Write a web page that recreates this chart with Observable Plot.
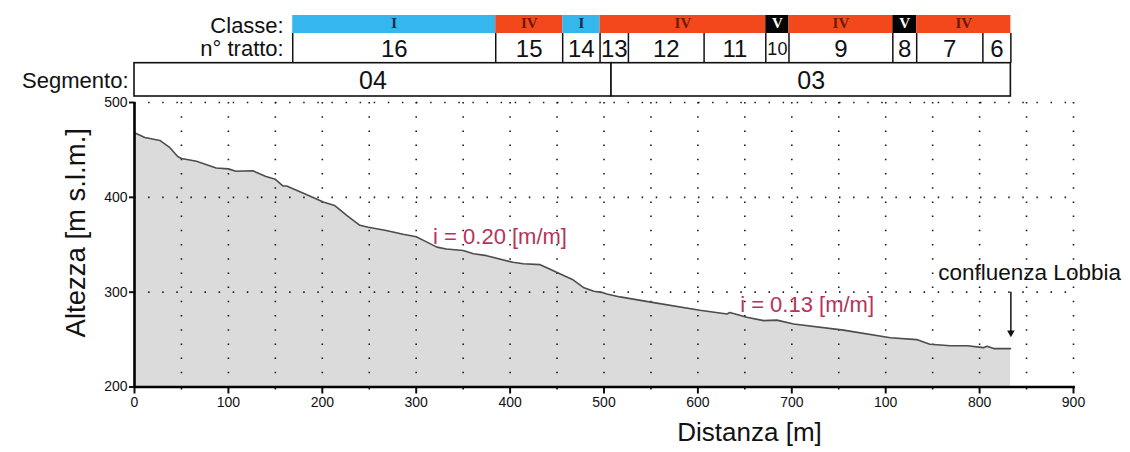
<!DOCTYPE html>
<html><head><meta charset="utf-8">
<script src="https://cdn.jsdelivr.net/npm/d3@7"></script>
<script src="https://cdn.jsdelivr.net/npm/@observablehq/plot@0.6"></script>
<style>
html,body{margin:0;padding:0;background:#fff;}
#chart svg{display:block;}
</style></head><body><div id="chart"></div>
<script>
// ---- profilo longitudinale (distanza in unità dell'asse, quota m s.l.m.)
const distanza = [0, 11, 27, 37, 46, 50, 66, 87, 100, 108, 126, 140, 150, 158, 162, 183, 201, 213, 226, 240, 249, 268, 286, 300, 311, 322, 332, 350, 361, 375, 403, 414, 432, 442, 457, 467, 478, 489, 499, 503, 517, 553, 602, 631, 634, 652, 670, 684, 702, 755, 805, 833, 847, 869, 887, 904, 908, 915, 933];
const altezza = [468, 463, 460, 453, 443, 441, 438, 431, 430, 427.5, 428, 422, 419, 412, 412, 403, 395, 391.5, 381, 370.5, 368.5, 365, 361, 358.5, 353, 347.5, 345.5, 344, 340.5, 338.5, 331.5, 330, 329, 324.5, 317.5, 313, 305, 301, 299.5, 298, 295, 289, 281, 277, 278.5, 273.5, 270, 270.5, 266.5, 260, 252, 250, 245, 243.5, 243.5, 241.5, 243, 240.5, 240.5];

// ---- tabella di intestazione
const classe = ["I", "IV", "I", "IV", "V", "IV", "V", "IV"];
const classeDa = [168.5, 384.7, 456, 495.8, 672.3, 697, 807.6, 833];
const classeA = [384.7, 456, 495.8, 672.3, 697, 807.6, 833, 933.3];
const tratto = ["16", "15", "14", "13", "12", "11", "10", "9", "8", "7", "6"];
const trattoDa = [168.5, 384.7, 456, 495.8, 526, 606.6, 672.3, 697, 807.6, 833, 903.5];
const trattoA = [384.7, 456, 495.8, 526, 606.6, 672.3, 697, 807.6, 833, 903.5, 933.3];
const segmento = ["04", "03"];
const segmentoDa = [0, 508];
const segmentoA = [508, 933.3];

// ---- assi
const xTicks = [0, 100, 200, 300, 400, 500, 600, 700, 800, 900, 1000];
const xTickLabels = ["0", "100", "200", "300", "400", "500", "600", "700", "100", "800", "900"];
const yTicks = [200, 300, 400, 500];

// ---- annotazioni
const pendenze = ["i = 0.20 [m/m]", "i = 0.13 [m/m]"];
const pendenzeX = [318, 645];
const pendenzeY = [358, 286];
const confluenzaTesto = "confluenza Lobbia";
const confluenzaX = 856;
const confluenzaY = 320;
const frecciaX = 933.3;
const frecciaDa = 300;
const frecciaA = 254;

// ---- build tables
const profilo = distanza.map((d, i) => ({d, h: altezza[i]}));
const classi = classe.map((c, i) => ({c, da: classeDa[i], a: classeA[i]}));
const tratti = tratto.map((t, i) => ({t, da: trattoDa[i], a: trattoA[i]}));
const segmenti = segmento.map((s, i) => ({s, da: segmentoDa[i], a: segmentoA[i]}));
const pend = pendenze.map((t, i) => ({t, x: pendenzeX[i], y: pendenzeY[i]}));

const W = 1130, ML = 134, MR = 57;
const pxPerUnit = (W - ML - MR) / 1000;
const CAD = "Liberation Sans, Arial, sans-serif";
const classeFill = {I: "#35b6ec", IV: "#f2481c", V: "#050505"};
const classeInk = {I: "#1c2a44", IV: "#6a1a08", V: "#ffffff"};
const rows = {classe: [0, 18], tratto: [18, 47.7], segmento: [47.7, 81]};
const mid = r => (r[0] + r[1]) / 2;

const header = Plot.plot({
  width: W, height: 98, marginLeft: ML, marginRight: MR, marginTop: 15, marginBottom: 2,
  x: {domain: [0, 1000], axis: null},
  y: {domain: [81, 0], axis: null},
  color: {type: "identity"},
  style: {fontFamily: CAD, background: "transparent", overflow: "visible"},
  marks: [
    Plot.rect(classi, {x1: "da", x2: "a", y1: rows.classe[0], y2: rows.classe[1], fill: d => classeFill[d.c]}),
    Plot.text(classi, {x: d => (d.da + d.a) / 2, y: mid(rows.classe), text: "c", fill: d => classeInk[d.c],
      fontFamily: "Liberation Serif, Times New Roman, serif", fontWeight: "bold", fontSize: 15, dy: -1}),
    Plot.ruleX([...trattoDa, trattoA[trattoA.length - 1]], {y1: rows.tratto[0], y2: rows.tratto[1], stroke: "#111", strokeWidth: 1.5}),
    Plot.text(tratti, {x: d => (d.da + d.a) / 2, y: mid(rows.tratto), text: "t", fill: "#111",
      fontSize: d => ((d.a - d.da) * pxPerUnit < 26 && d.t.length > 1) ? 18 : 24, dy: 1}),
    Plot.rect(segmenti, {x1: "da", x2: "a", y1: rows.segmento[0], y2: rows.segmento[1], fill: "white", stroke: "#111", strokeWidth: 1.6}),
    Plot.text(segmenti, {x: d => (d.da + d.a) / 2, y: mid(rows.segmento), text: "s", fill: "#111", fontSize: 25, dy: 1}),
    Plot.text(["Classe:"], {x: classeDa[0], y: mid(rows.classe), text: d => d, textAnchor: "end", dx: -9, fontSize: 22, fill: "#111", dy: 1}),
    Plot.text(["n° tratto:"], {x: trattoDa[0], y: mid(rows.tratto), text: d => d, textAnchor: "end", dx: -9, fontSize: 22, fill: "#111", dy: 1}),
    Plot.text(["Segmento:"], {x: segmentoDa[0], y: mid(rows.segmento), text: d => d, textAnchor: "end", dx: -6, fontSize: 22, fill: "#111", dy: 1})
  ]
});

const main = Plot.plot({
  width: W, height: 354, marginLeft: ML, marginRight: MR, marginTop: 4, marginBottom: 65.5,
  x: {domain: [0, 1000], label: null},
  y: {domain: [200, 500], label: null},
  style: {fontFamily: "Liberation Sans, Arial, sans-serif", fontSize: "13px", background: "transparent", overflow: "visible", color: "#111"},
  marks: [
    Plot.areaY(profilo, {x: "d", y1: 200, y2: "h", fill: "#dbdbdb"}),
    Plot.ruleX(d3.range(50, 1001, 50), {y1: 500, y2: 200, stroke: "#1a1a1a", strokeWidth: 1.6, strokeDasharray: "1.5 12.7"}),
    Plot.ruleY([300, 400, 500], {x1: 0, x2: 1006, stroke: "#1a1a1a", strokeWidth: 1.6, strokeDasharray: "1.5 12.6"}),
    Plot.line(profilo, {x: "d", y: "h", stroke: "#4d4d4d", strokeWidth: 1.6}),
    Plot.text(pend, {x: "x", y: "y", text: "t", textAnchor: "start", fontSize: 22, fill: "#b5345c", fontFamily: "Liberation Sans, Arial, sans-serif"}),
    Plot.text([confluenzaTesto], {x: confluenzaX, y: confluenzaY, text: d => d, textAnchor: "start", fontSize: 22.5, fill: "#111", fontFamily: CAD}),
    Plot.ruleX([frecciaX], {y1: frecciaDa, y2: frecciaA + 3, stroke: "#111", strokeWidth: 1.5}),
    Plot.dot([frecciaX], {x: d => d, y: frecciaA, symbol: "triangle2", rotate: 180, r: 3.6, fill: "#111", dy: -3}),
    Plot.axisX({ticks: xTicks, tickFormat: d => xTickLabels[xTicks.indexOf(d)], tickSize: 7, tickPadding: 3, fontSize: 14, strokeWidth: 2, label: null}),
    Plot.axisX({ticks: d3.range(50, 1000, 100), tickFormat: () => "", tickSize: 3, strokeWidth: 1.6, label: null}),
    Plot.axisY({ticks: yTicks, tickSize: 5, tickPadding: 2, fontSize: 14, strokeWidth: 2, label: null}),
    Plot.ruleY([200], {x1: 0, x2: 1002, stroke: "#000", strokeWidth: 2.6}),
    Plot.ruleX([0], {y1: 200, y2: 500, stroke: "#000", strokeWidth: 2.6}),
    Plot.text(["Altezza [m s.l.m.]"], {frameAnchor: "left", textAnchor: "middle", text: d => d, rotate: -90, dx: -58, dy: -12, fontSize: 27.5, fill: "#111", fontFamily: CAD}),
    Plot.text(["Distanza [m]"], {x: 655, frameAnchor: "bottom", textAnchor: "middle", text: d => d, dy: 54, fontSize: 26, fill: "#111", fontFamily: CAD})
  ]
});

const root = document.getElementById("chart");
root.appendChild(header);
root.appendChild(main);
</script></body></html>
